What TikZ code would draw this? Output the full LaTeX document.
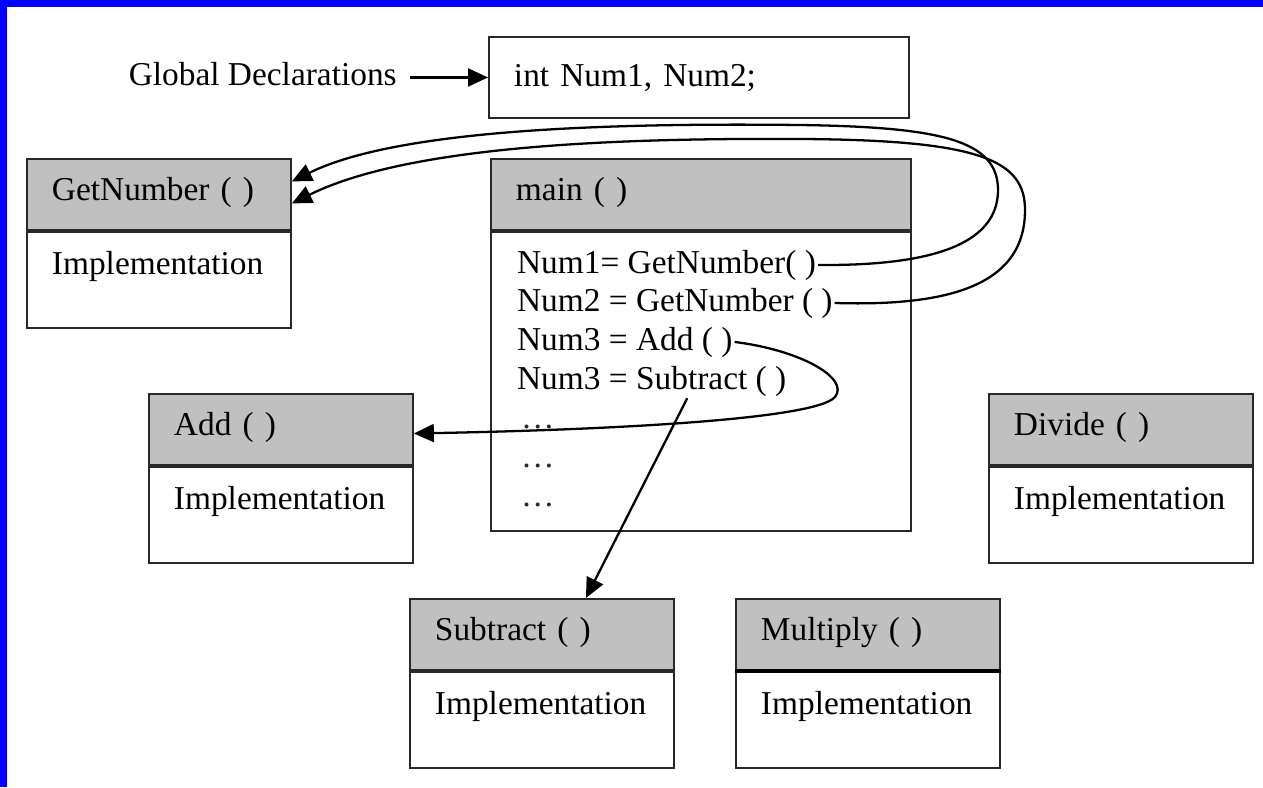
\documentclass[tikz,border=0pt]{standalone}
\usepackage{fontspec}
\setmainfont{Liberation Serif}
\usepackage{tikz}
\usetikzlibrary{positioning}
\usetikzlibrary{calc,arrows.meta}

\definecolor{HeadGray}{RGB}{192,192,192}
\definecolor{BoxLine}{RGB}{40,40,40}
\definecolor{FrameBlue}{RGB}{0,0,255}

\tikzset{
	fnhead/.style={draw=BoxLine, fill=HeadGray, line width=1.1pt, anchor=north west,
		minimum width=5.28cm, text width=4.28cm, inner xsep=0.5cm, inner ysep=0pt,
		text height=0.84cm, text depth=0.58cm, align=left},
	fnbody/.style={draw=BoxLine, fill=white, line width=1.1pt,
		minimum width=5.28cm, text width=4.28cm, inner xsep=0.5cm, inner ysep=0pt,
		text height=0.86cm, text depth=1.06cm, align=left},
	codeline/.style={anchor=base west, inner sep=1pt},
	callarrow/.style={line width=1.3pt, -{Triangle[length=0.4cm, width=0.36cm]}},
}

\begin{document}
\begin{tikzpicture}[x=0.02cm, y=-0.02cm, font=\fontsize{19}{22}\selectfont]
	
	% ------------------------------------------------
	% Ensure the dimensions of graphic are appropriate
	\useasboundingbox (0,0) rectangle (1263,787);
	\fill[FrameBlue] (0,0) rectangle (1263,787);
	\fill[white] (7,7) rectangle (1263,787);
	
	% ------------------------------------------------
	% Relevant coordinates
	\coordinate (GlobTL) at (488,36);
	\coordinate (MainTL) at (490,158);
	\coordinate (GetTL)  at (26,158);
	
	\path (GetTL)  +(122,235) coordinate (AddTL);
	\path (AddTL)  +(840,0)   coordinate (DivTL);
	\path (AddTL)  +(261,205) coordinate (SubTL);
	\path (SubTL)  +(326,0)   coordinate (MulTL);
	
	% ----------------
	% Global declarations
	\node[draw=BoxLine, line width=1.1pt, anchor=north west, minimum width=8.4cm,
		text width=7.4cm, inner xsep=0.5cm, inner ysep=0pt, text height=1.0cm,
		text depth=0.62cm, align=left] (GlobBox) at (GlobTL) {int Num1, Num2;};
	\node[anchor=base east, inner xsep=0.26cm, inner ysep=0pt] (GlobLabel) at (410,86) {Global Declarations};
	
	% ----------------
	% main ()
	\node[fnhead, minimum width=8.4cm, text width=7.4cm] (MainH) at (MainTL) {main ( )};
	\node[fnbody, below=0pt of MainH, minimum width=8.4cm, text width=7.4cm,
		minimum height=5.98cm] (MainB) {};
	
	\node[codeline] (Call1) at (515,273) {Num1= GetNumber( )};
	\node[codeline] (Call2) at (515,311) {Num2 = GetNumber ( )};
	\node[codeline] (Call3) at (515,350) {Num3 = Add ( )};
	\node[codeline] (Call4) at (515,389) {Num3 = Subtract ( )};
	\node[codeline, text=BoxLine] (Dots1) at (519,428) {…};
	\node[codeline, text=BoxLine] (Dots2) at (519,467) {…};
	\node[codeline, text=BoxLine] (Dots3) at (519,506) {…};
	
	% ----------------
	% Functions
	\node[fnhead] (GetH) at (GetTL) {GetNumber ( )};
	\node[fnbody, below=0pt of GetH] (GetB) {Implementation};
	
	\node[fnhead] (AddH) at (AddTL) {Add ( )};
	\node[fnbody, below=0pt of AddH] (AddB) {Implementation};
	
	\node[fnhead] (DivH) at (DivTL) {Divide ( )};
	\node[fnbody, below=0pt of DivH] (DivB) {Implementation};
	
	\node[fnhead] (SubH) at (SubTL) {Subtract ( )};
	\node[fnbody, below=0pt of SubH] (SubB) {Implementation};
	
	\node[fnhead] (MulH) at (MulTL) {Multiply ( )};
	\node[fnbody, below=0pt of MulH] (MulB) {Implementation};
	\draw[line width=2.2pt] (MulH.south west) -- (MulH.south east);
	
	%%%%%%%%%%%%%%%%%%%%%%%%%%%%%%%%%%%%%%%%%
	%Calls
	\draw[callarrow] (GlobLabel.east |- GlobBox.west) -- (GlobBox.west);
	
	\draw[callarrow] (Call1.east) .. controls (930,266) and (998,245) .. (998,190)
		.. controls (998,140) and (940,127) .. (800,125)
		.. controls (620,123) and (400,128) .. ($(GetH.east)+(0,-13)$);
	
	\draw[callarrow] (Call2.east) .. controls (960,307) and (1025,280) .. (1025,210)
		.. controls (1025,160) and (980,140) .. (800,139)
		.. controls (620,138) and (410,145) .. ($(GetH.east)+(0,9)$);
	
	\draw[callarrow] (Call3.east) .. controls (800,350) and (850,378) .. (835,397)
		.. controls (815,420) and (600,430) .. ($(AddH.east)+(0,4)$);
	
	\draw[callarrow] ($(Call4.south west)!0.63!(Call4.south east)$) -- ($(SubH.north)+(44,0)$);
	
\end{tikzpicture}
\end{document}
